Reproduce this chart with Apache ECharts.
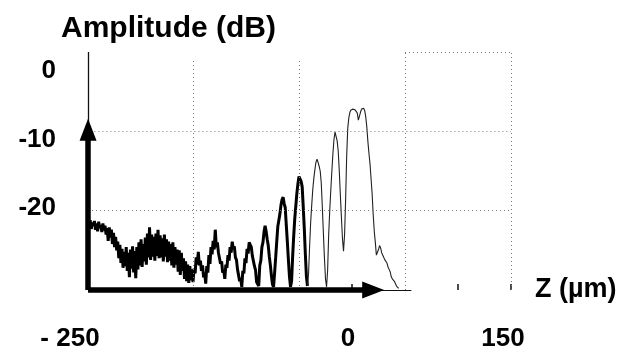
<!DOCTYPE html>
<html>
<head>
<meta charset="utf-8">
<script src="https://cdn.jsdelivr.net/npm/echarts@6/dist/echarts.min.js"></script>
<style>
  html, body { margin: 0; padding: 0; background: #fff; }
  #chart { width: 628px; height: 361px; }
</style>
</head>
<body>
<div id="chart"></div>
<script>
// Axis ticks and labels
const zTicks = [-250, 0, 150];
const zTickText = ['- 250', '0', '150'];
const zMinorTicks = [0, 100, 150];
const dbTicks = [0, -10, -20];
const gridZ = [-150, -50, 50, 150];
const gridDb = [-10, -20];

// Amplitude trace, [z (µm), amplitude (dB)]: noisy low-level part and the fringes
const noisyTrace = [
  [-249,-21.0],[-248,-22.0],[-247,-21.2],[-246,-22.3],[-245,-21.5],[-244,-21.9],[-243,-21.3],[-242,-22.4],[-241,-21.6],[-240,-22.6],
  [-239,-21.4],[-238,-22.2],[-237,-21.8],[-236,-22.7],[-235,-21.6],[-234,-22.5],[-233,-21.9],[-232,-23.0],[-231,-22.2],[-230,-23.8],
  [-229,-22.1],[-228,-23.4],[-227,-22.4],[-226,-24.2],[-225,-22.8],[-224,-24.6],[-223,-23.3],[-222,-25.0],[-221,-23.9],[-220,-26.0],
  [-219,-24.3],[-218,-26.6],[-217,-24.8],[-216,-27.2],[-215,-25.2],[-214,-27.0],[-213,-24.6],[-212,-27.6],[-211,-25.3],[-210,-28.4],
  [-209,-24.9],[-208,-27.3],[-207,-24.5],[-206,-27.8],[-205,-25.1],[-204,-28.5],[-203,-24.6],[-202,-27.4],[-201,-24.0],[-200,-26.9],
  [-199,-23.6],[-198,-27.1],[-197,-24.2],[-196,-26.4],[-195,-23.4],[-194,-26.8],[-193,-22.9],[-192,-25.9],[-191,-22.1],[-190,-26.2],
  [-189,-23.0],[-188,-25.8],[-187,-23.3],[-186,-26.3],[-185,-22.9],[-184,-25.7],[-183,-22.4],[-182,-26.0],[-181,-23.1],[-180,-25.9],
  [-179,-23.5],[-178,-26.4],[-177,-23.0],[-176,-25.8],[-175,-23.6],[-174,-26.5],[-173,-23.9],[-172,-26.3],[-171,-24.2],[-170,-26.9],
  [-169,-24.0],[-168,-27.2],[-167,-24.6],[-166,-26.8],[-165,-24.9],[-164,-27.7],[-163,-25.0],[-162,-28.1],[-161,-25.3],[-160,-27.6],
  [-159,-26.0],[-158,-28.6],[-157,-26.4],[-156,-28.9],[-155,-26.8],[-154,-29.1],[-153,-27.0],[-152,-28.8],[-151,-27.4],[-150,-29.0],
  [-149,-27.3],[-148,-27.9],[-147,-25.9],[-146,-26.8],[-145,-25.2],[-144,-26.9],[-143,-26.3],[-142,-27.6],[-141,-26.9],[-140,-28.4],
  [-139,-27.8],[-138,-29.2],[-137,-27.0],[-136,-27.8],[-135,-25.6],[-134,-26.7],[-133,-24.6],[-132,-25.5],[-131,-23.8],[-130,-24.9],
  [-129,-22.4],[-128,-24.6],[-127,-24.0],[-126,-25.3],[-125,-25.4],[-124,-26.7],[-123,-26.4],[-122,-27.8],[-121,-27.5],[-120,-28.6],
  [-119,-26.8],[-118,-27.2],[-117,-25.6],[-116,-26.3],[-115,-24.6],[-114,-25.3],[-113,-23.9],[-112,-24.8],[-111,-24.5],[-110,-25.9],
  [-109,-26.2],[-108,-27.4],[-107,-27.6],[-106,-28.9],[-105,-28.5],[-104,-29.6],[-103,-27.6],[-102,-27.9],[-101,-26.0],[-100,-26.6],
  [-99,-24.8],[-98,-25.4],[-97,-24.0],[-96,-24.3],[-95,-24.6],[-94,-25.7],[-93,-25.8],[-92,-27.0],[-91,-27.5],[-90,-29.0],
  [-89,-28.9],[-88,-29.5],[-87,-26.9],[-86,-26.3],[-85,-24.6],[-84,-24.0],[-83,-22.7],[-82,-21.9],[-81,-22.6],[-80,-23.6],
  [-79,-24.4],[-78,-25.8],[-77,-26.9],[-76,-28.2],[-75,-29.3],[-74,-29.6],[-73,-27.8],[-72,-25.9],[-71,-23.9],[-70,-22.0],
  [-69,-21.2],[-68,-20.4],[-67,-19.3],[-66,-18.6],[-65,-18.3],[-64,-19.1],[-63,-19.6],[-62,-21.8],[-61,-23.9],[-60,-26.2],
  [-59,-28.3],[-58,-29.6],[-57,-28.9],[-56,-25.8],[-55,-23.2],[-54,-21.0],[-53,-19.4],[-52,-17.8],[-51,-16.6],[-50,-15.7],
  [-49,-15.5],[-48,-16.3],[-47,-17.0],[-46,-19.5],[-45,-22.3],[-44,-25.5],[-43,-28.3],[-42,-29.5]
];

const cleanTrace = [
  [-42,-29.5],[-41,-28.0],[-40,-24.5],[-39,-21.5],[-38,-19.3],[-37,-17.3],[-36,-15.9],[-35,-14.8],[-34,-13.9],[-33,-13.5],
  [-32,-13.9],[-31,-14.4],[-30,-15.0],[-29,-16.5],[-28,-19.5],[-27,-22.8],[-26,-26.0],[-25,-28.6],[-24,-29.6],[-23,-27.5],
  [-22,-23.0],[-21,-20.0],[-20,-17.4],[-19,-15.0],[-18,-12.8],[-17,-11.0],[-16,-10.1],[-15,-10.3],[-14,-11.2],[-13,-12.5],
  [-12,-15.0],[-11,-18.0],[-10,-20.8],[-9,-23.5],[-8,-25.1],[-7,-23.0],[-6,-18.5],[-5,-13.0],[-4,-9.6],[-3,-8.3],
  [-2,-7.6],[-1,-7.3],[0,-7.2],[1,-7.2],[2,-7.3],[3,-7.3],[4,-7.4],[5,-7.7],[6,-8.6],[7,-8.4],
  [8,-7.6],[9,-7.2],[10,-7.0],[11,-7.1],[12,-7.4],[13,-8.2],[14,-9.5],[15,-11.3],[16,-12.8],[17,-14.1],
  [18,-16.0],[19,-17.9],[20,-20.5],[21,-22.6],[22,-24.0],[23,-25.6],[24,-25.6],[25,-24.9],[26,-24.4],[27,-24.7],
  [28,-25.3],[29,-25.4],[30,-25.9],[31,-26.2],[32,-26.4],[33,-26.6],[34,-27.1],[35,-27.4],[36,-27.7],[37,-28.3],
  [38,-28.6],[39,-28.8],[40,-28.9],[41,-29.2],[42,-29.5],[43,-29.7],[44,-29.8]
];

// Axis frame: thin full-height line at the origin, thick arrows up to -10 dB and along to ~+20 µm
const axisOriginZ = -249;
const axisFloorDb = -30;
const axisTopDb = 0;
const upArrowEndDb = -9.8;
const rightArrowEndZ = 20;
const thinAxisEndZ = 56;

const FONT = '"Liberation Sans", Arial, Helvetica, sans-serif';

const dotted = { type: [1, 3], color: '#777', width: 1 };

const gridLines = [];
gridZ.forEach(z => {
  gridLines.push([{ coord: [z, axisFloorDb], lineStyle: dotted }, { coord: [z, z < 0 ? -1 : axisTopDb] }]);
});
gridDb.forEach(db => {
  gridLines.push([{ coord: [db === -10 ? -243 : axisOriginZ, db], lineStyle: dotted }, { coord: [gridZ[gridZ.length - 1], db] }]);
});
// short dotted piece of the 0 dB line at the upper right
gridLines.push([{ coord: [gridZ[2], axisTopDb], lineStyle: dotted }, { coord: [gridZ[3], axisTopDb] }]);

const frameLines = [
  [{ coord: [axisOriginZ, axisFloorDb], lineStyle: { color: '#111', width: 1.3, type: 'solid' } },
   { coord: [axisOriginZ, axisTopDb] }],
  [{ coord: [axisOriginZ, axisFloorDb], lineStyle: { color: '#111', width: 1.2, type: 'solid' } },
   { coord: [thinAxisEndZ, axisFloorDb] }],
  [{ coord: [axisOriginZ, axisFloorDb], symbol: 'none', lineStyle: { color: '#000', width: 5.5, type: 'solid' } },
   { coord: [axisOriginZ, upArrowEndDb], symbol: 'triangle', symbolSize: [17, 22] }],
  [{ coord: [axisOriginZ, axisFloorDb], symbol: 'none', lineStyle: { color: '#000', width: 5.5, type: 'solid' } },
   { coord: [rightArrowEndZ, axisFloorDb], symbol: 'triangle', symbolSize: [17, 22] }]
];

const chart = echarts.init(document.getElementById('chart'), null, { renderer: 'canvas' });

chart.setOption({
  animation: false,
  backgroundColor: '#fff',
  title: {
    text: 'Amplitude (dB)',
    left: 56,
    top: 9,
    textStyle: { fontFamily: FONT, fontWeight: 'bold', fontSize: 30, color: '#000' }
  },
  grid: { left: 87, right: 117, top: 52, bottom: 71 },
  xAxis: {
    type: 'value',
    min: -250,
    max: 150,
    name: 'Z (µm)',
    nameLocation: 'end',
    nameGap: 24,
    nameTextStyle: { fontFamily: FONT, fontWeight: 'bold', fontSize: 27, color: '#000', padding: [8, 0, 0, 0] },
    axisLine: { show: false, onZero: false },
    splitLine: { show: false },
    axisTick: { show: true, inside: true, length: 6, customValues: zMinorTicks, lineStyle: { color: '#111', width: 1.5 } },
    axisLabel: {
      customValues: zTicks,
      margin: 36,
      formatter: v => {
        const i = zTicks.indexOf(v);
        return '{t' + i + '|' + zTickText[i] + '}';
      },
      rich: {
        t0: { fontFamily: FONT, fontWeight: 'bold', fontSize: 26, color: '#000', padding: [0, 34, 0, 0] },
        t1: { fontFamily: FONT, fontWeight: 'bold', fontSize: 26, color: '#000', padding: [0, 8, 0, 0] },
        t2: { fontFamily: FONT, fontWeight: 'bold', fontSize: 26, color: '#000', padding: [0, 16, 0, 0] }
      }
    }
  },
  yAxis: {
    type: 'value',
    min: -30,
    max: 0,
    axisLine: { show: false, onZero: false },
    axisTick: { show: false },
    splitLine: { show: false },
    axisLabel: {
      customValues: dbTicks,
      margin: 31,
      formatter: v => {
        const i = dbTicks.indexOf(v);
        return '{d' + i + '|' + String(v) + '}';
      },
      rich: {
        d0: { fontFamily: FONT, fontWeight: 'bold', fontSize: 26, color: '#000', padding: [38, 0, 0, 0] },
        d1: { fontFamily: FONT, fontWeight: 'bold', fontSize: 26, color: '#000', padding: [17, 0, 0, 0] },
        d2: { fontFamily: FONT, fontWeight: 'bold', fontSize: 26, color: '#000', padding: [0, 0, 5, 0] }
      }
    }
  },
  series: [
    {
      name: 'grid',
      type: 'line',
      data: [],
      silent: true,
      markLine: { silent: true, symbol: 'none', label: { show: false }, data: gridLines }
    },
    {
      name: 'noisy',
      type: 'line',
      data: noisyTrace,
      showSymbol: false,
      symbol: 'none',
      lineStyle: { color: '#000', width: 3 },
      silent: true
    },
    {
      name: 'fringes',
      type: 'line',
      data: cleanTrace,
      showSymbol: false,
      symbol: 'none',
      lineStyle: { color: '#222', width: 1.1 },
      silent: true
    },
    {
      name: 'frame',
      type: 'line',
      data: [],
      silent: true,
      z: 5,
      markLine: {
        silent: true,
        symbol: 'none',
        label: { show: false },
        itemStyle: { color: '#000' },
        data: frameLines
      }
    }
  ]
});
</script>
</body>
</html>
